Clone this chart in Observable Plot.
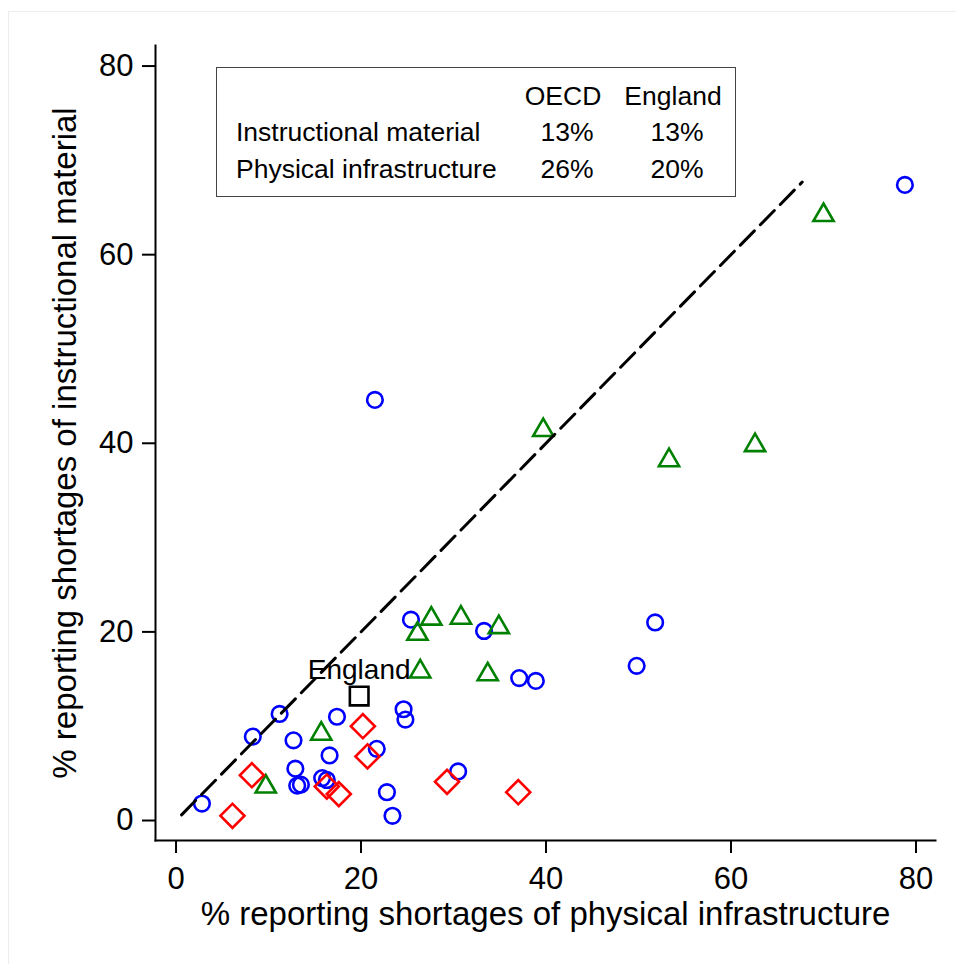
<!DOCTYPE html>
<html>
<head>
<meta charset="utf-8">
<script src="https://cdn.jsdelivr.net/npm/d3@7"></script>
<script src="https://cdn.jsdelivr.net/npm/@observablehq/plot@0.6"></script>
<style>
  body { margin: 0; background: #fff; font-family: "Liberation Sans", Arial, sans-serif; }
  #wrap { position: relative; width: 956px; height: 964px; overflow: hidden; }
  #border { position: absolute; left: 8px; top: 11px; width: 1000px; height: 1000px; border: 1px solid #ececec; }
  #chart { position: absolute; left: 0; top: 0; }
  #legend { position: absolute; left: 216px; top: 67px; width: 518px; height: 128px;
            border: 1.5px solid #444; font-size: 26.5px; color: #000; background: #fff; }
  #legend span { position: absolute; white-space: nowrap; }
  #legend .c { transform: translate(-50%, -50%); }
  #legend .l { transform: translate(0, -50%); }
</style>
</head>
<body>
<div id="wrap">
  <div id="border"></div>
  <div id="chart"></div>
  <div id="legend"></div>
</div>
<script>
// ---- data ----
// blue circles: [physical infrastructure %, instructional material %]
const circleGroup = [
  [2.8, 1.8], [8.3, 8.9], [11.2, 11.3], [12.7, 8.5], [12.9, 5.5], [13.1, 3.7], [13.5, 3.8],
  [15.8, 4.5], [16.3, 4.3], [16.6, 6.9], [17.4, 11.0], [21.5, 44.6], [21.7, 7.6], [22.8, 3.0],
  [23.4, 0.5], [24.6, 11.8], [24.8, 10.7], [25.4, 21.3], [30.5, 5.2], [33.3, 20.1], [37.1, 15.1],
  [38.9, 14.8], [49.8, 16.4], [51.8, 21.0], [78.8, 67.4]
];
// green triangles
const triangleGroup = [
  [9.7, 3.8], [15.7, 9.4], [26.1, 20.0], [26.4, 16.0], [27.6, 21.6], [30.8, 21.7], [33.7, 15.7],
  [34.9, 20.7], [39.7, 41.6], [53.3, 38.4], [62.6, 40.0], [70.0, 64.4]
];
// red diamonds
const diamondGroup = [
  [6.1, 0.5], [8.2, 4.8], [16.3, 3.6], [17.6, 2.8], [20.2, 10.0], [20.7, 6.8], [29.3, 4.1], [37.0, 3.0]
];
// England
const englandPoint = [[19.8, 13.2]];
const englandLabel = ["England"];
// 45-degree reference line
const diagonal = [0.6, 67.7];

const xTicks = [0, 20, 40, 60, 80];
const yTicks = [0, 20, 40, 60, 80];
const xTitle = "% reporting shortages of physical infrastructure";
const yTitle = "% reporting shortages of instructional material";

const legendCols = ["OECD", "England"];
const legendRows = ["Instructional material", "Physical infrastructure"];
const legendValues = [["13%", "13%"], ["26%", "20%"]];

// ---- build ----
const toObj = (arr) => arr.map(([x, y]) => ({x, y}));
const font = "Liberation Sans, Arial, sans-serif";

const chart = Plot.plot({
  width: 956,
  height: 964,
  marginLeft: 155,
  marginRight: 21,
  marginTop: 45,
  marginBottom: 124,
  style: {fontFamily: font, background: "transparent", color: "#000", overflow: "visible"},
  x: {domain: [-2.22, 82.11]},
  y: {domain: [-2.12, 82.18]},
  marks: [
    Plot.frame({anchor: "left", stroke: "#000", strokeWidth: 2}),
    Plot.frame({anchor: "bottom", stroke: "#000", strokeWidth: 2}),
    Plot.axisX(xTicks, {tickSize: 13, tickPadding: 13, fontSize: 31, strokeWidth: 2, label: null}),
    Plot.axisY(yTicks, {tickSize: 13, tickPadding: 9, fontSize: 31, strokeWidth: 2, label: null}),
    Plot.axisX([], {tickSize: 0, fontSize: 33, label: xTitle, labelArrow: "none",
      labelAnchor: "center", labelOffset: 84}),
    Plot.axisY([], {tickSize: 0, fontSize: 33, label: yTitle, labelArrow: "none",
      labelAnchor: "center", labelOffset: 103}),
    Plot.dot(toObj(circleGroup), {x: "x", y: "y", symbol: "circle", r: 7.8, fill: "none",
      stroke: "#0000ff", strokeWidth: 2.6}),
    Plot.dot(toObj(triangleGroup), {x: "x", y: "y", symbol: "triangle", r: 7.5, fill: "none",
      stroke: "#008000", strokeWidth: 2.6, dy: 2}),
    Plot.dot(toObj(diamondGroup), {x: "x", y: "y", symbol: "square", r: 9.6, rotate: 45, fill: "none",
      stroke: "#ff0000", strokeWidth: 2.6}),
    Plot.dot(toObj(englandPoint), {x: "x", y: "y", symbol: "square", r: 10.5, fill: "none",
      stroke: "#000", strokeWidth: 2.6}),
    Plot.text(toObj(englandPoint), {x: "x", y: "y", text: (d, i) => englandLabel[i], dy: -26,
      fontSize: 28, fill: "#000"}),
    Plot.line(diagonal.map(v => ({x: v, y: v})), {x: "x", y: "y", stroke: "#000", strokeWidth: 3,
      strokeDasharray: "20,8.5"})
  ]
});
document.getElementById("chart").appendChild(chart);

// legend table
const lg = document.getElementById("legend");
const colX = [346, 456];
const rowY = [64, 101];
function span(text, cls, left, top) {
  const s = document.createElement("span");
  s.className = cls; s.textContent = text;
  s.style.left = left + "px"; s.style.top = top + "px";
  lg.appendChild(s);
}
legendCols.forEach((c, i) => span(c, "c", colX[i], 28));
legendRows.forEach((r, j) => {
  span(r, "l", 19, rowY[j]);
  legendValues[j].forEach((v, i) => span(v, "c", colX[i] + 4, rowY[j]));
});
</script>
</body>
</html>
